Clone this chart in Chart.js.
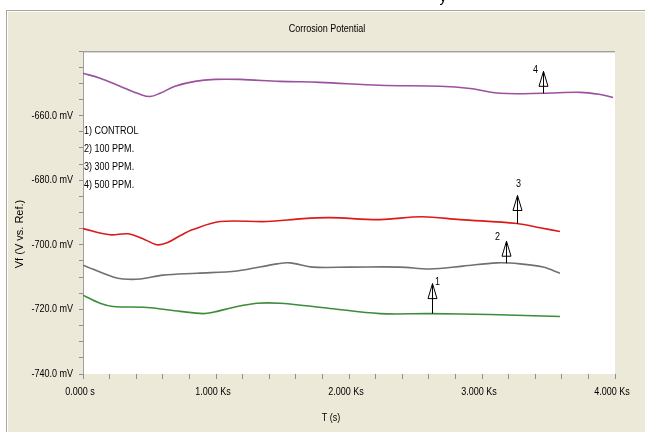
<!DOCTYPE html>
<html>
<head>
<meta charset="utf-8">
<script src="https://cdn.jsdelivr.net/npm/chart.js@4"></script>
<style>
html,body{margin:0;padding:0;background:#fff;}
canvas{display:block;}
</style>
</head>
<body>
<canvas id="c" width="645" height="432"></canvas>
<script>
// ---- data (time in s, potential in mV) ----
const seriesNames = ["1) CONTROL", "2) 100 PPM.", "3) 300 PPM.", "4) 500 PPM."];

const t1 = [0, 128, 226, 481, 729, 902, 977, 1128, 1308, 1481, 1729, 1857, 2233, 2609, 3060, 3586];
const v1 = [-715.6, -718.1, -719.1, -719.4, -720.6, -721.3, -720.9, -719.4, -718.1, -718.1, -719.1, -719.7, -721.3, -721.3, -721.6, -722.2];

const t2 = [0, 226, 301, 429, 602, 857, 1158, 1459, 1556, 1729, 2008, 2383, 2609, 2857, 3113, 3286, 3459, 3586];
const v2 = [-706.3, -710.0, -710.6, -710.6, -709.4, -708.8, -708.1, -705.9, -705.6, -706.9, -706.9, -706.9, -707.5, -706.6, -705.6, -705.9, -706.9, -708.8];

const t3 = [0, 203, 338, 466, 556, 632, 729, 827, 1030, 1383, 1654, 1857, 2233, 2549, 2835, 3263, 3436, 3586];
const v3 = [-695.0, -696.9, -696.6, -698.4, -700.0, -699.4, -697.2, -695.3, -692.8, -692.8, -691.9, -691.6, -692.2, -691.3, -692.2, -693.4, -694.7, -695.9];

const t4 = [0, 128, 278, 429, 504, 579, 692, 842, 992, 1180, 1481, 1782, 2233, 2684, 2910, 3135, 3459, 3737, 3880, 3985];
const v4 = [-646.9, -648.4, -650.9, -653.4, -654.1, -653.1, -650.9, -649.4, -648.8, -648.8, -649.4, -649.7, -650.6, -650.9, -651.6, -653.1, -653.1, -652.8, -653.4, -654.4];

// marker arrows: label, time (s), potential (mV) on the curve
const markerLabels = ["1", "2", "3", "4"];
const markerT = [2624, 3180, 3263, 3459];
const markerV = [-721.3, -705.7, -693.4, -653.1];

// axis tick settings
const yMin = -740, yMax = -640, yStep = 5, yLabelEvery = 20;
const xMin = 0, xMax = 4000, xStep = 200, xLabelEvery = 1000;

const colors = ["#3c8c3c", "#707070", "#dc1a1a", "#9c50a0"];
const FONT = "'Liberation Sans', Arial, sans-serif";
const SQ = 0.82; // horizontal condensing to mimic a narrow face

function pts(t, v) { return t.map((x, i) => ({x: x, y: v[i]})); }
const allT = [t1, t2, t3, t4], allV = [v1, v2, v3, v4];

function yLabel(v) {
  if (v % yLabelEvery !== 0 || v === yMax) return '';
  return v.toFixed(1) + ' mV';
}
function xLabel(v) {
  if (v % xLabelEvery !== 0) return '';
  return v === 0 ? '0.000 s' : (v / 1000).toFixed(3) + ' Ks';
}

function narrowText(ctx, text, x, y, align, size) {
  ctx.save();
  ctx.font = size + "px " + FONT;
  ctx.textBaseline = 'middle';
  ctx.textAlign = align;
  ctx.translate(x, y);
  ctx.scale(SQ, 1);
  ctx.fillText(text, 0, 0);
  ctx.restore();
}

const datasets = seriesNames.map((n, i) => ({
  label: n,
  data: pts(allT[i], allV[i]),
  borderColor: colors[i],
  borderWidth: 1.6,
  pointRadius: 0,
  fill: false,
  tension: 0.35
}));

const framePlugin = {
  id: 'frame',
  beforeDraw(chart) {
    const ctx = chart.ctx, a = chart.chartArea;
    ctx.save();
    ctx.fillStyle = '#ffffff';
    ctx.fillRect(0, 0, chart.width, chart.height);
    // outer panel
    ctx.fillStyle = '#ece9d8';
    ctx.fillRect(6, 10, chart.width - 6, chart.height - 10);
    ctx.fillStyle = '#a8a79a';
    ctx.fillRect(6, 10, chart.width - 6, 1);
    ctx.fillRect(6, 10, 1, chart.height - 10);
    ctx.fillStyle = '#ffffff';
    ctx.fillRect(7, 11, chart.width - 7, 1);
    ctx.fillRect(7, 11, 1, chart.height - 11);
    // plot area
    ctx.fillStyle = '#ffffff';
    ctx.fillRect(a.left, a.top, a.right - a.left, a.bottom - a.top);
    ctx.fillStyle = '#a0a0a0';
    ctx.fillRect(a.left, a.top, a.right - a.left, 1);
    ctx.fillRect(a.left, a.top, 1, a.bottom - a.top);
    ctx.fillStyle = '#d8d8d8';
    ctx.fillRect(a.left + 1, a.top + 1, a.right - a.left - 1, 1);
    // fragment of caption above
    ctx.fillStyle = '#000';
    ctx.font = "14px " + FONT;
    ctx.textBaseline = 'alphabetic';
    ctx.textAlign = 'center';
    ctx.fillText('y', 443, 2);
    // title and axis titles
    narrowText(ctx, 'Corrosion Potential', 327, 29, 'center', 11);
    narrowText(ctx, 'T (s)', 331, 418, 'center', 11);
    ctx.save();
    ctx.translate(20, 234);
    ctx.rotate(-Math.PI / 2);
    ctx.font = "11px " + FONT;
    ctx.textAlign = 'center';
    ctx.textBaseline = 'middle';
    ctx.fillText('Vf (V vs. Ref.)', 0, 0);
    ctx.restore();
    ctx.restore();
  },
  afterDraw(chart) {
    const ctx = chart.ctx, a = chart.chartArea;
    const xs = chart.scales.x, ys = chart.scales.y;
    ctx.save();
    ctx.fillStyle = '#000';
    // tick labels, placed through the scales
    ys.ticks.forEach(t => {
      const s = yLabel(t.value);
      if (s) narrowText(ctx, s, a.left - 10, ys.getPixelForValue(t.value), 'right', 11);
    });
    xs.ticks.forEach(t => {
      const s = xLabel(t.value);
      if (s) narrowText(ctx, s, xs.getPixelForValue(t.value) - 3, a.bottom + 18, 'center', 11);
    });
    // legend text
    seriesNames.forEach((n, i) => narrowText(ctx, n, a.left + 1, 131 + i * 18, 'left', 11));
    // arrows
    const len = [30, 22, 28, 22];
    const lab = [[5, -2], [-9, -4], [1, -12], [-8, -1]];
    ctx.strokeStyle = '#000';
    ctx.lineWidth = 1;
    markerLabels.forEach((m, i) => {
      const px = Math.round(xs.getPixelForValue(markerT[i])) + 0.5;
      const py = ys.getPixelForValue(markerV[i]);
      const tip = py - len[i];
      ctx.beginPath();
      ctx.moveTo(px, py);
      ctx.lineTo(px, tip);
      ctx.moveTo(px, tip);
      ctx.lineTo(px - 4.5, tip + 15);
      ctx.lineTo(px + 4.5, tip + 15);
      ctx.closePath();
      ctx.stroke();
      narrowText(ctx, m, px + lab[i][0], tip + lab[i][1], 'center', 11);
    });
    ctx.restore();
  }
};

new Chart(document.getElementById('c'), {
  type: 'line',
  data: { datasets: datasets },
  plugins: [framePlugin],
  options: {
    responsive: false,
    devicePixelRatio: 1,
    animation: false,
    events: [],
    layout: { padding: { left: 0, top: 51, right: 30, bottom: 0 } },
    plugins: { legend: { display: false }, tooltip: { enabled: false }, title: { display: false } },
    scales: {
      x: {
        type: 'linear', min: xMin, max: xMax,
        afterFit(s) { s.height = 58; },
        border: { display: false },
        grid: { drawOnChartArea: false, drawTicks: true, tickLength: 5, color: '#909090' },
        ticks: { stepSize: xStep, autoSkip: false, maxRotation: 0, display: false }
      },
      y: {
        type: 'linear', min: yMin, max: yMax,
        afterFit(s) { s.width = 83; },
        border: { display: false },
        grid: { drawOnChartArea: false, drawTicks: true, tickLength: 4, color: '#909090' },
        ticks: { stepSize: yStep, autoSkip: false, display: false }
      }
    }
  }
});
</script>
</body>
</html>
